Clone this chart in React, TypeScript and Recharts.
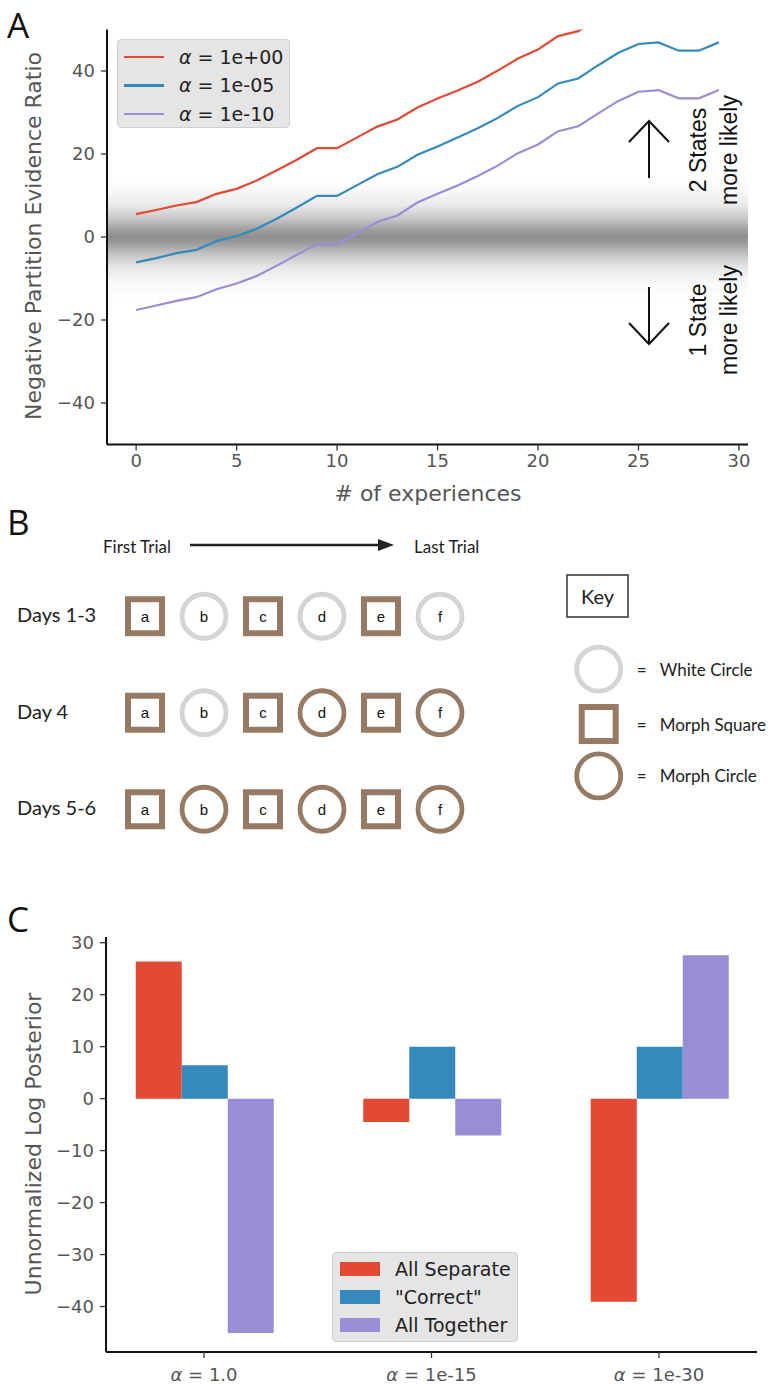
import React from 'react'
import {
  Bar,
  BarChart,
  Legend,
  Line,
  LineChart,
  ReferenceArea,
  Scatter,
  ScatterChart,
  XAxis,
  YAxis,
} from 'recharts'

// Panel A: negative partition evidence ratio per experience count
const experiences = [
  0, 1, 2, 3, 4, 5, 6, 7, 8, 9, 10, 11, 12, 13, 14, 15, 16, 17, 18, 19, 20, 21, 22, 23, 24, 25, 26, 27, 28, 29,
]
const alpha1e0 = [
  5.5, 6.5, 7.6, 8.4, 10.4, 11.6, 13.6, 16.1, 18.6, 21.4, 21.4, 24.0, 26.6, 28.3, 31.2, 33.4, 35.3, 37.4, 40.1, 43.0,
  45.2, 48.4, 49.6, 52.9, 55.9, 58.0, 58.4, 56.4, 56.4, 58.4,
]
const alpha1e5 = [
  -6.1, -5.1, -3.9, -3.1, -1.0, 0.2, 2.0, 4.4, 7.1, 9.9, 9.9, 12.5, 15.1, 16.9, 19.8, 21.8, 24.0, 26.2, 28.7, 31.6,
  33.7, 37.0, 38.2, 41.4, 44.4, 46.5, 46.9, 44.9, 44.9, 46.9,
]
const alpha1e10 = [
  -17.6, -16.5, -15.4, -14.5, -12.6, -11.2, -9.4, -6.9, -4.3, -1.7, -1.7, 0.9, 3.6, 5.2, 8.3, 10.4, 12.4, 14.7, 17.2,
  20.2, 22.3, 25.5, 26.7, 29.8, 32.8, 35.0, 35.4, 33.4, 33.4, 35.4,
]
const lineSeries = [
  { key: 'a0', label: '1e+00', color: '#E24A33', values: alpha1e0 },
  { key: 'a5', label: '1e-05', color: '#348ABD', values: alpha1e5 },
  { key: 'a10', label: '1e-10', color: '#988ED5', values: alpha1e10 },
]
const xTicksA = [0, 5, 10, 15, 20, 25, 30]
const yTicksA = [-40, -20, 0, 20, 40]

// Panel B: trial sequences
const trialLetters = ['a', 'b', 'c', 'd', 'e', 'f']
const dayLabels = ['Days 1-3', 'Day 4', 'Days 5-6']
const daySequences = [
  ['square', 'white', 'square', 'white', 'square', 'white'],
  ['square', 'white', 'square', 'morph', 'square', 'morph'],
  ['square', 'morph', 'square', 'morph', 'square', 'morph'],
]
const keyKinds = ['white', 'square', 'morph']
const keyLabels = ['White Circle', 'Morph Square', 'Morph Circle']

// Panel C: unnormalized log posterior
const alphaLabels = ['1.0', '1e-15', '1e-30']
const allSeparate = [26.4, -4.5, -39.1]
const correct = [6.4, 10.0, 10.0]
const allTogether = [-45.1, -7.1, 27.6]
const barSeries = [
  { key: 'sep', label: 'All Separate', color: '#E24A33' },
  { key: 'cor', label: '"Correct"', color: '#348ABD' },
  { key: 'tog', label: 'All Together', color: '#988ED5' },
]
const yTicksC = [-40, -30, -20, -10, 0, 10, 20, 30]

const MPL_FONT = '"DejaVu Sans", sans-serif'
const FIG_FONT = 'Lato, "Open Sans", sans-serif'
const BROWN = '#977a64'
const LIGHT = '#d4d4d4'

const minus = (v: number) => String(v).replace('-', '\u2212')

const lineData = experiences.map((x, i) => ({
  x,
  a0: alpha1e0[i],
  a5: alpha1e5[i],
  a10: alpha1e10[i],
}))

const barData = alphaLabels.map((label, i) => ({
  label,
  sep: allSeparate[i],
  cor: correct[i],
  tog: allTogether[i],
}))

const trialPoints = daySequences.flatMap((seq, row) =>
  seq.map((kind, col) => ({ col, row, kind, letter: trialLetters[col] })),
)
const keyRows = [0.547, 1.117, 1.655]
const keyPoints = keyKinds.map((kind, i) => ({ col: 7.69, row: keyRows[i], kind, label: keyLabels[i] }))

function StimulusMark({ cx, cy, kind }: { cx: number; cy: number; kind: string }) {
  if (kind === 'square') {
    return <rect x={cx - 17} y={cy - 17} width={34} height={34} fill="#fff" stroke={BROWN} strokeWidth={6} />
  }
  return <circle cx={cx} cy={cy} r={22} fill="#fff" stroke={kind === 'white' ? LIGHT : BROWN} strokeWidth={4.8} />
}

function TrialShape(props: any) {
  const { cx, cy, payload } = props
  return (
    <g>
      <StimulusMark cx={cx} cy={cy} kind={payload.kind} />
      <text
        x={cx}
        y={cy}
        textAnchor="middle"
        dominantBaseline="central"
        fontFamily='"Liberation Sans", Arial, sans-serif'
        fontSize={15}
        fill="#111"
      >
        {payload.letter}
      </text>
    </g>
  )
}

function KeyShape(props: any) {
  const { cx, cy, payload } = props
  return (
    <g>
      <StimulusMark cx={cx} cy={cy} kind={payload.kind} />
      <text x={cx + 43} y={cy} textAnchor="middle" dominantBaseline="central" fontFamily={FIG_FONT} fontSize={17} fill="#222">
        =
      </text>
      <text x={cx + 61} y={cy} dominantBaseline="central" fontFamily={FIG_FONT} fontSize={17} fill="#222">
        {payload.label}
      </text>
    </g>
  )
}

function AlphaTick(props: any) {
  const { x, y, payload } = props
  return (
    <text x={x} y={y + 8} dy="0.71em" textAnchor="middle" fontFamily={MPL_FONT} fontSize={18} fill="#555">
      <tspan fontStyle="italic">α</tspan> = {payload.value}
    </text>
  )
}

function LineLegend() {
  return (
    <div
      style={{
        background: '#e5e5e5',
        border: '1px solid #d0d0d0',
        borderRadius: 4,
        padding: '3px 0',
        boxSizing: 'border-box',
        width: 173,
        height: 89,
      }}
    >
      {lineSeries.map((s) => (
        <div key={s.key} style={{ display: 'flex', alignItems: 'center', height: 28.3 }}>
          <div style={{ width: 40, height: 2.4, background: s.color, marginLeft: 6, marginRight: 15 }} />
          <span style={{ fontFamily: MPL_FONT, fontSize: 19, color: '#222', whiteSpace: 'nowrap' }}>
            <i>α</i> = {s.label}
          </span>
        </div>
      ))}
    </div>
  )
}

function BarLegend() {
  return (
    <div
      style={{
        background: '#e5e5e5',
        border: '1px solid #d0d0d0',
        borderRadius: 4,
        padding: '2px 0',
        boxSizing: 'border-box',
        width: 186,
        height: 90,
      }}
    >
      {barSeries.map((s) => (
        <div key={s.key} style={{ display: 'flex', alignItems: 'center', height: 28 }}>
          <div style={{ width: 40, height: 14, background: s.color, marginLeft: 7, marginRight: 15 }} />
          <span style={{ fontFamily: MPL_FONT, fontSize: 19, color: '#222', whiteSpace: 'nowrap' }}>{s.label}</span>
        </div>
      ))}
    </div>
  )
}

const tickStyle = { fill: '#555', fontSize: 18, fontFamily: MPL_FONT }
const spine = { stroke: '#111', strokeWidth: 2 }
const tickMark = { stroke: '#333', strokeWidth: 1.3 }

export default function App() {
  return (
    <div style={{ position: 'absolute', left: 0, top: 0, width: 772, height: 1385, background: '#fff' }}>
      {/* Panel A */}
      <div style={{ position: 'absolute', left: 0, top: 0 }}>
        <LineChart width={772} height={520} data={lineData} margin={{ top: 29.5, right: 24, bottom: 0.5, left: 0 }}>
          <defs>
            <linearGradient id="evidenceBand" x1="0" y1="0" x2="0" y2="1">
              <stop offset="0%" stopColor="#8e8e8e" stopOpacity={0} />
              <stop offset="12%" stopColor="#8e8e8e" stopOpacity={0.05} />
              <stop offset="25%" stopColor="#8e8e8e" stopOpacity={0.2} />
              <stop offset="37%" stopColor="#8e8e8e" stopOpacity={0.55} />
              <stop offset="44%" stopColor="#8e8e8e" stopOpacity={0.85} />
              <stop offset="50%" stopColor="#8e8e8e" stopOpacity={1} />
              <stop offset="56%" stopColor="#8e8e8e" stopOpacity={0.85} />
              <stop offset="63%" stopColor="#8e8e8e" stopOpacity={0.55} />
              <stop offset="75%" stopColor="#8e8e8e" stopOpacity={0.2} />
              <stop offset="88%" stopColor="#8e8e8e" stopOpacity={0.05} />
              <stop offset="100%" stopColor="#8e8e8e" stopOpacity={0} />
            </linearGradient>
          </defs>
          <XAxis
            dataKey="x"
            type="number"
            domain={[-1.45, 30.45]}
            ticks={xTicksA}
            allowDataOverflow
            height={75}
            axisLine={spine}
            tickLine={tickMark}
            tickSize={6}
            tickMargin={4}
            tick={tickStyle}
          />
          <YAxis
            type="number"
            domain={[-50, 50]}
            ticks={yTicksA}
            allowDataOverflow
            width={107}
            axisLine={spine}
            tickLine={tickMark}
            tickSize={6}
            tickMargin={6}
            tick={tickStyle}
            tickFormatter={minus}
          />
          <ReferenceArea y1={-15} y2={15} fill="url(#evidenceBand)" fillOpacity={1} stroke="none" ifOverflow="hidden" />
          {lineSeries.map((s) => (
            <Line
              key={s.key}
              dataKey={s.key}
              type="linear"
              stroke={s.color}
              strokeWidth={2.2}
              dot={false}
              isAnimationActive={false}
            />
          ))}
          <Legend
            layout="vertical"
            align="center"
            verticalAlign="middle"
            wrapperStyle={{ left: 117, top: 39, width: 173, height: 89 }}
            content={() => <LineLegend />}
          />
        </LineChart>
      </div>

      {/* Panel B */}
      <div style={{ position: 'absolute', left: 0, top: 500 }}>
        <ScatterChart width={772} height={380} margin={{ top: 68, right: 96, bottom: 22.5, left: 0 }}>
          <XAxis dataKey="col" type="number" domain={[-1, 9]} hide />
          <YAxis
            dataKey="row"
            type="number"
            domain={[-0.5, 2.5]}
            reversed
            ticks={[0, 1, 2]}
            width={86}
            axisLine={false}
            tickLine={false}
            tick={(p: any) => (
              <text x={17} y={p.y} dy={-2} dominantBaseline="central" fontFamily={FIG_FONT} fontSize={20} fill="#222">
                {dayLabels[p.payload.value]}
              </text>
            )}
          />
          <Scatter data={trialPoints} shape={(p: any) => <TrialShape {...p} />} isAnimationActive={false} />
          <Scatter data={keyPoints} shape={(p: any) => <KeyShape {...p} />} isAnimationActive={false} />
        </ScatterChart>
      </div>

      {/* Panel C */}
      <div style={{ position: 'absolute', left: 0, top: 880 }}>
        <BarChart
          width={772}
          height={505}
          data={barData}
          margin={{ top: 57, right: 15, bottom: 0, left: 0 }}
          barCategoryGap="20%"
          barGap={0}
        >
          <XAxis
            dataKey="label"
            height={33}
            padding={{ left: -15.75, right: -15.75 }}
            axisLine={spine}
            tickLine={tickMark}
            tickSize={6}
            tick={(p: any) => <AlphaTick {...p} />}
          />
          <YAxis
            type="number"
            domain={[-48.75, 31.1]}
            ticks={yTicksC}
            allowDataOverflow
            width={106}
            axisLine={spine}
            tickLine={tickMark}
            tickSize={6}
            tickMargin={6}
            tick={tickStyle}
            tickFormatter={minus}
          />
          {barSeries.map((s) => (
            <Bar key={s.key} dataKey={s.key} fill={s.color} isAnimationActive={false} />
          ))}
          <Legend
            layout="vertical"
            align="center"
            verticalAlign="middle"
            wrapperStyle={{ left: 332, top: 372, width: 186, height: 90 }}
            content={() => <BarLegend />}
          />
        </BarChart>
      </div>

      {/* annotations */}
      <svg
        width={772}
        height={1385}
        style={{ position: 'absolute', left: 0, top: 0, pointerEvents: 'none' }}
      >
        <g fontFamily='"Open Sans", sans-serif' fontSize={35} fill="#111">
          <text x={7} y={38}>A</text>
          <text x={7} y={535}>B</text>
          <text x={7} y={932}>C</text>
        </g>

        {/* panel A titles */}
        <text
          x={33}
          y={236}
          transform="rotate(-90, 33, 236)"
          textAnchor="middle"
          dominantBaseline="central"
          fontFamily={MPL_FONT}
          fontSize={22}
          fill="#555"
        >
          Negative Partition Evidence Ratio
        </text>
        <text x={428} y={493} textAnchor="middle" dominantBaseline="central" fontFamily={MPL_FONT} fontSize={22} fill="#555">
          # of experiences
        </text>

        {/* panel A arrows */}
        <g stroke="#111" strokeWidth={2} fill="none">
          <line x1={649} y1={178} x2={649} y2={121} />
          <polyline points="629,142 649,121 669,142" />
          <line x1={649} y1={287} x2={649} y2={344} />
          <polyline points="629,323 649,344 669,323" />
        </g>
        <g fontFamily='"Liberation Sans", Arial, sans-serif' fontSize={23} fill="#111" textAnchor="middle">
          <text x={698} y={150} transform="rotate(-90, 698, 150)" dominantBaseline="central">
            2 States
          </text>
          <text x={729} y={150} transform="rotate(-90, 729, 150)" dominantBaseline="central">
            more likely
          </text>
          <text x={698} y={320} transform="rotate(-90, 698, 320)" dominantBaseline="central">
            1 State
          </text>
          <text x={729} y={320} transform="rotate(-90, 729, 320)" dominantBaseline="central">
            more likely
          </text>
        </g>

        {/* panel B header */}
        <g fontFamily={FIG_FONT} fontSize={17} fill="#222">
          <text x={103} y={546} dominantBaseline="central">
            First Trial
          </text>
          <text x={414} y={546} dominantBaseline="central">
            Last Trial
          </text>
        </g>
        <line x1={190} y1={545} x2={382} y2={545} stroke="#222" strokeWidth={2.5} />
        <polygon points="378,539 394,545 378,551" fill="#222" />
        <rect x={567} y={575} width={61} height={42} fill="#fff" stroke="#333" strokeWidth={1.5} />
        <text x={597.5} y={596} textAnchor="middle" dominantBaseline="central" fontFamily={FIG_FONT} fontSize={20} fill="#222">
          Key
        </text>

        {/* panel C title */}
        <text
          x={33}
          y={1144}
          transform="rotate(-90, 33, 1144)"
          textAnchor="middle"
          dominantBaseline="central"
          fontFamily={MPL_FONT}
          fontSize={22}
          fill="#555"
        >
          Unnormalized Log Posterior
        </text>
      </svg>
    </div>
  )
}
